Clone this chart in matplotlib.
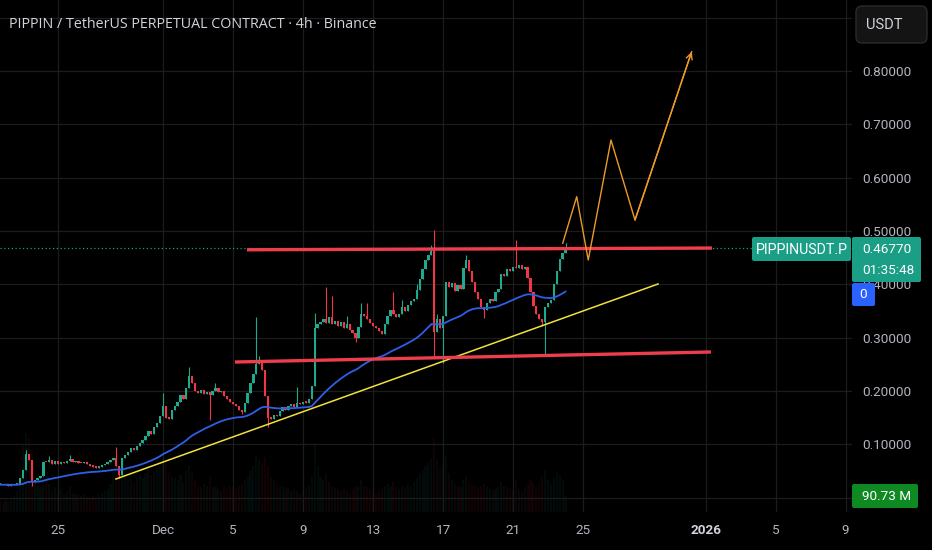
import matplotlib
matplotlib.use("Agg")
import matplotlib.pyplot as plt
import numpy as np
import pandas as pd
from matplotlib.patches import FancyBboxPatch
from matplotlib.transforms import IdentityTransform

plt.rcParams['font.family'] = ['Roboto', 'DejaVu Sans']

# ---------------- data ----------------
title = "PIPPIN / TetherUS PERPETUAL CONTRACT · 4h · Binance"
start_day = -9.3333          # first 4h candle, in days relative to Dec 1 00:00
candle_days = 1 / 6          # 4h candles

closes = [
    0.024, 0.023, 0.024, 0.022, 0.023, 0.025, 0.026,
    0.036, 0.052, 0.082, 0.070, 0.030,
    0.032, 0.036, 0.040,
    0.067,
    0.066, 0.070, 0.063, 0.068, 0.062, 0.066, 0.064, 0.069, 0.072, 0.066,
    0.068, 0.065, 0.064, 0.066, 0.062, 0.060, 0.058, 0.056, 0.058, 0.061,
    0.063, 0.066, 0.070, 0.075,
    0.060, 0.042,
    0.074, 0.080, 0.086, 0.092, 0.090, 0.097, 0.102, 0.108, 0.115, 0.125,
    0.120, 0.132, 0.140, 0.152, 0.172,
    0.150, 0.148, 0.165, 0.172, 0.180, 0.192, 0.185, 0.205, 0.228, 0.215,
    0.200, 0.196, 0.202, 0.195, 0.198, 0.192, 0.200, 0.205, 0.198, 0.200,
    0.190, 0.185, 0.180, 0.176, 0.172, 0.165, 0.160, 0.178, 0.196, 0.215,
    0.232, 0.250,
    0.258, 0.240, 0.190, 0.150, 0.148, 0.155, 0.152, 0.162, 0.170, 0.165,
    0.172, 0.175, 0.170, 0.178, 0.175, 0.180, 0.178, 0.185, 0.210, 0.318,
    0.325, 0.330, 0.335, 0.328, 0.338, 0.325, 0.332, 0.322, 0.330, 0.318,
    0.325, 0.315, 0.308, 0.300, 0.320, 0.345, 0.340, 0.335, 0.328, 0.322,
    0.318, 0.312, 0.306, 0.325, 0.340, 0.352, 0.345, 0.338, 0.345, 0.358,
    0.350, 0.362, 0.368, 0.372, 0.390, 0.410, 0.428, 0.445, 0.455, 0.462,
    0.310,
    0.335, 0.318, 0.340, 0.405, 0.395, 0.402, 0.388, 0.398, 0.392, 0.430,
    0.445, 0.425, 0.405, 0.385, 0.372, 0.358, 0.352, 0.365, 0.372, 0.368,
    0.385, 0.392, 0.420, 0.415, 0.428, 0.425, 0.432, 0.430, 0.436, 0.428,
    0.432, 0.412, 0.385, 0.360, 0.345, 0.335, 0.330, 0.358, 0.365, 0.370,
    0.400, 0.425, 0.448, 0.458, 0.4677,
]
first_open = 0.024

# notable wicks (candle index, price)
high_idx = [9, 17, 24, 40, 56, 65, 74, 88, 89, 102, 108, 112, 114, 119, 124,
            126, 135, 138, 143, 148, 149, 150, 160, 177, 194]
high_val = [0.089, 0.078, 0.080, 0.095, 0.196, 0.245, 0.215, 0.338, 0.265, 0.208,
            0.346, 0.395, 0.378, 0.340, 0.365, 0.365, 0.385, 0.370, 0.400, 0.474,
            0.502, 0.345, 0.455, 0.483, 0.478]
low_idx = [11, 41, 72, 83, 92, 122, 149, 152, 166, 186, 187]
low_val = [0.022, 0.036, 0.145, 0.156, 0.132, 0.292, 0.263, 0.252, 0.337, 0.322, 0.267]

volumes_m = [
    60, 55, 70, 65, 80, 90, 120,
    260, 380, 450, 420, 350, 180, 150, 140, 220,
    180, 160, 120, 140, 110, 130, 100, 120, 150, 110, 100, 95, 90, 100, 85, 80,
    90, 85, 95, 110, 120, 130, 160, 240,
    280, 260, 220, 200, 180, 190, 170, 200, 210, 190, 220, 240, 210, 230, 250, 260, 300,
    280, 220, 200, 190, 180, 210, 170, 230, 260, 220, 180, 150, 140, 160, 150, 200,
    140, 150, 130, 120, 140, 130, 150, 140, 130, 150, 160, 180, 200, 230, 260, 320,
    300, 280, 310, 260, 200, 180, 160, 150, 140, 130, 140, 120, 130, 120, 110, 120,
    130, 150, 200, 380,
    260, 200, 180, 220, 170, 150, 140, 130, 120, 130, 120, 110, 130, 140, 150, 180,
    150, 140, 130, 120, 110, 120, 130, 150, 160, 150, 170, 140, 130, 150, 140, 160,
    150, 170, 200, 220, 240, 260, 280, 300, 420,
    300, 260, 280, 320, 220, 180, 160, 150, 140, 180, 200, 170, 160, 150, 140, 150,
    160, 140, 130, 120, 130, 140, 170, 150, 140, 130, 120, 180, 130, 120, 140, 160,
    180, 170, 150, 160, 200, 240, 180, 160, 200, 220, 210, 180, 90.73,
]

# drawn lines (day offset from Dec 1, price)
resist_days, resist_prices = [4.8, 31.37], [0.4648, 0.4680]
support_days, support_prices = [4.11, 31.31], [0.2542, 0.2730]
trend_days, trend_prices = [-2.69, 28.29], [0.0347, 0.4006]
proj_days = [22.84, 23.64, 24.30, 25.60, 26.97, 30.21]
proj_prices = [0.4769, 0.5644, 0.4456, 0.6707, 0.5206, 0.8364]

last_price = 0.4677
price_ticks = [0.0, 0.1, 0.2, 0.3, 0.4, 0.5, 0.6, 0.7, 0.8, 0.9]
price_labels = ['', '0.10000', '0.20000', '0.30000', '0.40000', '0.50000',
                '0.60000', '0.70000', '0.80000', '']
date_ticks = [-6, 0, 4, 8, 12, 16, 20, 24, 31, 35, 39]
date_labels = ['25', 'Dec', '5', '9', '13', '17', '21', '25', '2026', '5', '9']

# ---------------- figure ----------------
W, H = 932, 550
fig = plt.figure(figsize=(W / 100, H / 100), dpi=100, facecolor='#000000')
ax = fig.add_axes([0, 38 / H, 852 / W, 512 / H])
axv = ax.twinx()
ax.set_zorder(2)
ax.patch.set_visible(False)
axv.set_zorder(1)

UP, DN = '#1fa98f', '#f23645'
c = np.array(closes)
n = len(c)
o = np.concatenate([[first_open], c[:-1]])
hi = np.maximum(o, c)
lo = np.minimum(o, c)
for i, v in zip(high_idx, high_val):
    hi[i] = max(hi[i], v)
for i, v in zip(low_idx, low_val):
    lo[i] = min(lo[i], v)
t = start_day + np.arange(n) * candle_days
col = np.where(c >= o, UP, DN)

# volume (very faint)
axv.bar(t, volumes_m, width=0.12, color=col, alpha=0.07, linewidth=0)
axv.set_ylim(0, 2900)
axv.axis('off')

# grid / axes
ax.set_xlim(-9.314, 39.371)
ax.set_ylim(-0.0272, 0.9334)
ax.set_yticks(price_ticks)
ax.set_yticklabels(price_labels)
ax.set_xticks(date_ticks)
ax.set_xticklabels(date_labels)
ax.yaxis.tick_right()
ax.grid(True, color='#1c1c1c', linewidth=0.9)
ax.set_axisbelow(True)
for s in ax.spines.values():
    s.set_visible(False)
ax.tick_params(axis='y', length=0, pad=7.2, labelcolor='#b2b5be', labelsize=9.7)
ax.tick_params(axis='x', length=0, pad=9, labelcolor='#b2b5be', labelsize=9.7)
for lbl in ax.get_xticklabels():
    if lbl.get_text() == '2026':
        lbl.set_fontweight('bold')
        lbl.set_color('#d1d4dc')

# current price dotted line
ax.axhline(last_price, color='#1a9e86', lw=0.9, ls=(0, (1, 2)), zorder=1.5)

# candles
ax.vlines(t, lo, hi, colors=col, linewidth=0.8, zorder=3)
body_h = np.maximum(np.abs(c - o), 0.0025)
ax.bar(t, body_h, bottom=np.minimum(o, c), width=0.125, color=col,
       linewidth=0, zorder=3.1)

# moving average
ma = pd.Series(c).ewm(span=50, adjust=False).mean()
ax.plot(t, ma, color='#2f5fe8', lw=1.3, zorder=4)

# drawings
ax.plot(trend_days, trend_prices, color='#f2e23c', lw=1.1, zorder=5)
ax.plot(resist_days, resist_prices, color='#ee3e4d', lw=2.4, zorder=5,
        solid_capstyle='butt')
ax.plot(support_days, support_prices, color='#ee3e4d', lw=2.4, zorder=5,
        solid_capstyle='butt')
ax.plot(proj_days, proj_prices, color='#ec9a2a', lw=1.0, zorder=5)
ax.annotate('', xy=(proj_days[-1], proj_prices[-1]),
            xytext=(proj_days[-2], proj_prices[-2]),
            arrowprops=dict(arrowstyle='->', color='#ec9a2a', lw=1.0,
                            mutation_scale=11, shrinkA=0, shrinkB=0), zorder=5)

# ---------------- overlays (pixel coordinates) ----------------
def box(x0, y0, x1, y1, fc, ec='none', r=2.0):
    p = FancyBboxPatch((x0, H - y1), x1 - x0, y1 - y0,
                       boxstyle=f'round,pad=0,rounding_size={r}',
                       transform=IdentityTransform(), fc=fc, ec=ec, lw=1,
                       zorder=20)
    fig.add_artist(p)

def txt(x, y, s, ha='left', color='white', size=9.7, **kw):
    fig.text(x / W, 1 - y / H, s, ha=ha, va='center', color=color,
             fontsize=size, zorder=21, **kw)

TEAL = '#1a9e86'
box(752, 237, 851, 261, TEAL)
txt(801.5, 249.5, 'PIPPINUSDT.P', ha='center', size=10.2)
box(852, 237, 921, 282, TEAL)
txt(862, 249.5, '0.46770')
txt(862, 270, '01:35:48')
box(852, 283, 875, 306, '#2962ff')
txt(863.5, 295, '0', ha='center')
box(852, 484, 918, 508, '#0f8a22')
txt(862, 496.5, '90.73 M')
box(856, 6, 927, 43, '#141414', ec='#2a2a2a', r=6)
txt(866, 25, 'USDT', color='#d1d4dc', size=10.5)

txt(9, 24, title, color='#d1d4dc', size=10.3, family=['Open Sans', 'DejaVu Sans'])

fig.savefig('out.png', dpi=100, facecolor='#000000')
